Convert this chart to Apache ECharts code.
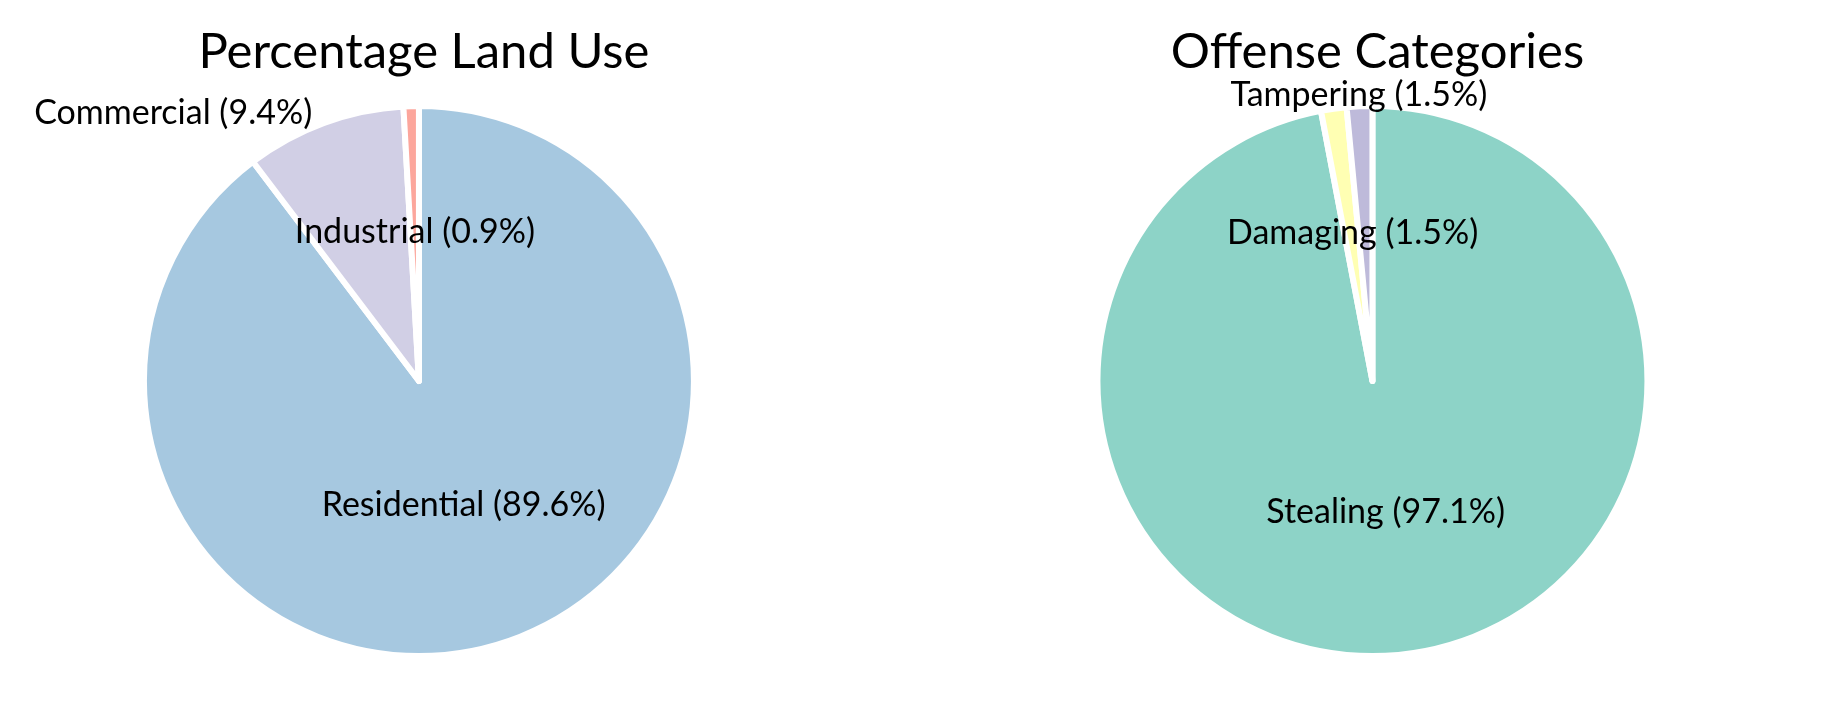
<!DOCTYPE html>
<html>
<head>
<meta charset="utf-8">
<script src="https://cdn.jsdelivr.net/npm/echarts@6/dist/echarts.min.js"></script>
<style>
html,body{margin:0;padding:0;background:#fff;}
#chart{width:1827px;height:705px;}
</style>
</head>
<body>
<div id="chart"></div>
<script>
// ---- data ----
const landTitle = "Percentage Land Use";
const landNames = ["Residential", "Commercial", "Industrial"];
const landValues = [89.6, 9.4, 0.9];
const landColors = ["#a6c8e0", "#d1cfe5", "#fca69c"];
const landLabelPos = ["inside", "outside", "inside"];

const offenseTitle = "Offense Categories";
const offenseNames = ["Stealing", "Damaging", "Tampering"];
const offenseValues = [97.1, 1.5, 1.5];
const offenseColors = ["#8dd3c7", "#ffffb3", "#bebada"];
const offenseLabelPos = ["inside", "inside", "outside"];

const FONT = "Lato";
const centersX = ["22.93%", "75.12%"];
const centerY = "54.04%";
const R = 275;

function buildData(names, values, colors, positions) {
  return names.map((n, i) => ({
    name: n,
    value: values[i],
    itemStyle: { color: colors[i] },
    label: { position: positions[i] }
  }));
}

function makeSeries(names, values, colors, positions, cx, layoutFn) {
  return {
    type: "pie",
    center: [cx, centerY],
    radius: [0, R],
    startAngle: 90,
    clockwise: true,
    avoidLabelOverlap: false,
    silent: true,
    animation: false,
    itemStyle: { borderColor: "#ffffff", borderWidth: 6 },
    label: {
      show: true,
      color: "#000",
      fontFamily: FONT,
      fontSize: 34,
      distanceToLabelLine: 5,
      formatter: p => p.name + " (" + p.value.toFixed(1) + "%)"
    },
    labelLine: { show: false, length: 14, length2: 2 },
    labelLayout: layoutFn,
    data: buildData(names, values, colors, positions)
  };
}

const chart = echarts.init(document.getElementById("chart"), null, { renderer: "canvas" });
chart.setOption({
  backgroundColor: "#ffffff",
  animation: false,
  title: [
    { text: landTitle, left: centersX[0], top: 23, textAlign: "center",
      textStyle: { fontFamily: FONT, fontSize: 49, fontWeight: "normal", color: "#000" } },
    { text: offenseTitle, left: centersX[1], top: 23, textAlign: "center",
      textStyle: { fontFamily: FONT, fontSize: 49, fontWeight: "normal", color: "#000" } }
  ],
  series: [
    makeSeries(landNames, landValues, landColors, landLabelPos, centersX[0],
      p => landLabelPos[p.dataIndex] === "inside" ? { dy: -9 } : { dy: 3 }),
    makeSeries(offenseNames, offenseValues, offenseColors, offenseLabelPos, centersX[1],
      p => offenseLabelPos[p.dataIndex] === "inside" ? { dy: -9 } : { align: "center", dx: 7, dy: 3 })
  ]
});
</script>
</body>
</html>
